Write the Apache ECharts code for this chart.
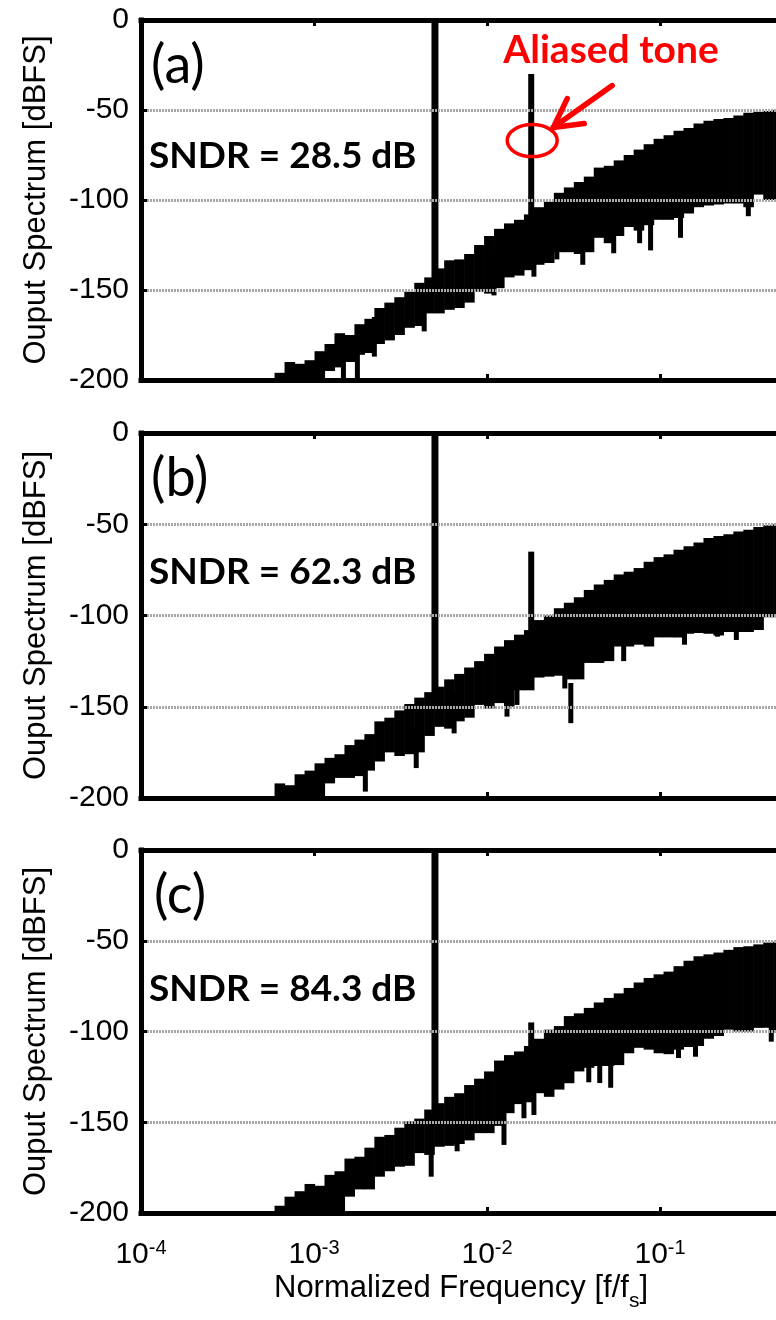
<!DOCTYPE html>
<html><head><meta charset="utf-8">
<script src="https://cdn.jsdelivr.net/npm/echarts@6/dist/echarts.min.js"></script>
<style>html,body{margin:0;padding:0;background:#fff}#c{width:776px;height:1320px}</style>
</head><body><div id="c"></div>
<script>
// ---------- data ----------
const noiseFreq = [6.32e-4,7.22e-4,8.25e-4,9.42e-4,1.076e-3,1.228e-3,1.403e-3,1.602e-3,1.829e-3,2.089e-3,
  2.385e-3,2.724e-3,3.111e-3,3.552e-3,4.056e-3,4.632e-3,5.290e-3,6.040e-3,6.898e-3,7.876e-3,
  8.995e-3,1.027e-2,1.173e-2,1.339e-2,1.529e-2,1.746e-2,1.994e-2,2.277e-2,2.600e-2,2.969e-2,
  3.391e-2,3.872e-2,4.421e-2,5.049e-2,5.765e-2,6.583e-2,7.518e-2,8.585e-2,9.804e-2,0.1119,
  0.1278,0.1460,0.1667,0.1904,0.2174,0.2482,0.2835,0.3237,0.3696,0.4220,0.4819];

const topA = [-196,-190,-191,-189,-184,-180,-174,-175,-169,-166,
  -160,-157,-154,-151,-146,-143,-138,-133.5,-133,-130,
  -125,-120,-116,-113,-111,-108,-104,-101,-96,-93,
  -90,-87,-82,-81,-78,-75,-72,-69,-66,-64,
  -61.5,-60,-57.5,-56,-55,-54.5,-53,-51.5,-51,-50.5,-50];
const botA = [-200,-200,-200,-200,-200,-195,-193,-190,-186,-185,
  -180,-178,-175,-171,-170,-163,-163,-161,-160,-157,
  -151,-152,-149,-143,-142,-139,-136,-135,-129,-129,
  -130,-129,-121,-124,-120,-115,-117,-114,-111,-111,
  -110,-107.5,-104,-103,-102.5,-102,-102,-104,-97,-100,-100];

const topB = [-192,-193,-187,-185,-181,-178,-176,-171,-168,-165,
  -158,-156,-152,-148.5,-145,-142,-139,-135,-132,-128.5,
  -125,-121,-117,-113.5,-110.5,-108,-102.5,-100,-96,-93,
  -90,-86,-83,-80.5,-77.5,-76,-74,-70.5,-68,-66.5,
  -64,-62,-60,-57.5,-56.5,-55.5,-54,-53,-51.5,-50.5,-50];
const botB = [-200,-200,-200,-200,-200,-192,-189,-189,-188,-185,
  -180,-175,-177,-176,-175,-166,-161,-162,-158,-156,
  -149,-151,-148,-150,-141,-141,-134,-133.5,-133,-135,
  -135,-126,-126,-125,-117,-117,-116,-117,-112,-112,
  -112,-110,-109.6,-110,-111,-109,-109,-109,-108,-101,-101];

const topC = [-196,-191,-188,-184,-185,-179,-177,-170,-169,-164,
  -158,-157,-153,-149.5,-148,-143,-139.5,-136,-134,-129.5,
  -126,-122,-116,-113,-111,-108,-104,-99,-97,-91.5,
  -90,-87,-84,-81.5,-79,-76,-73,-70.5,-68.5,-67,
  -64,-61,-58.5,-57.5,-56.5,-55,-53.5,-53,-52,-51,-50.5];
const botC = [-200,-200,-200,-200,-200,-200,-200,-191,-187,-187,
  -180,-177,-174.5,-174,-167,-168,-163.5,-163,-162,-160,
  -156,-156,-152,-145,-140,-139,-134,-136,-132,-128.5,
  -122,-120,-119,-119,-118.5,-112,-109,-110,-112,-112.5,
  -110,-108.5,-108,-104,-102.5,-99,-100,-100,-98,-98,-100];

// narrow downward spurs in the noise floor
const dipFreqA = [1.479e-3,1.781e-3,2.232e-3,4.333e-3,1.097e-2,1.866e-2,2.532e-2,3.575e-2,5.395e-2,7.617e-2,8.815e-2,0.1313,0.3237];
const dipValA  = [-200,-200,-187,-173,-153,-142.6,-133,-136,-129.6,-124,-128,-121,-109];
const dipFreqB = [1.980e-3,3.897e-3,6.452e-3,1.304e-2,1.489e-2,2.815e-2,3.049e-2,6.161e-2,0.1384,0.2145,0.2760];
const dipValB  = [-196.5,-183.6,-164.6,-155.4,-149,-140,-159,-125,-116,-111.6,-113.4];
const dipFreqC = [1.460e-3,4.755e-3,6.715e-3,1.253e-2,1.634e-2,1.866e-2,3.872e-2,4.481e-2,5.184e-2,0.1278,0.1602,0.4392];
const dipValC  = [-200,-180,-166,-162.5,-147.8,-146,-128,-128.4,-131,-114.6,-113.9,-105.6];

// tones
const toneFreq = 0.005;
const toneTop = [0, 0, 0];
const toneBottom = [-150, -150, -150];
const aliasFreq = 0.018;
const aliasTop = [-30, -65, -95];
const aliasBottom = [-112, -112, -112];

// texts & ticks
const panelLabels = ['(a)', '(b)', '(c)'];
const sndrLabels = ['SNDR = 28.5 dB', 'SNDR = 62.3 dB', 'SNDR = 84.3 dB'];
const yTicks = [0, -50, -100, -150, -200];
const xTickValues = [1e-4, 1e-3, 1e-2, 1e-1];
const xTickExps = ['-4', '-3', '-2', '-1'];
const yName = 'Ouput Spectrum [dBFS]';
const xName = 'Normalized Frequency [f/f{sub|s}]';
const annotation = 'Aliased tone';
const X_MIN = 1e-4, X_MAX = 0.5;

// ---------- chart ----------
const chart = echarts.init(document.getElementById('c'), null, {renderer: 'canvas'});
const FONT = 'Liberation Sans';
const gridsPx = [
  {left: 141, top: 20, width: 640, height: 360},
  {left: 141, top: 433, width: 640, height: 365},
  {left: 141, top: 850, width: 640, height: 363}
];

function bandData(top, bot) {
  const n = noiseFreq.length;
  return noiseFreq.map((f, i) => {
    const left = i > 0 ? Math.sqrt(noiseFreq[i - 1] * f) : f / Math.sqrt(noiseFreq[1] / f);
    const right = i < n - 1 ? Math.sqrt(f * noiseFreq[i + 1]) : X_MAX;
    return [left, right, top[i], bot[i]];
  });
}
function bandRender(params, api) {
  const p1 = api.coord([api.value(0), api.value(2)]);
  const p2 = api.coord([api.value(1), api.value(3)]);
  return {type: 'rect', shape: {x: p1[0], y: p1[1], width: p2[0] - p1[0] + 0.6, height: p2[1] - p1[1]},
    style: {fill: '#000'}};
}
function dipRender(params, api) {
  const p = api.coord([api.value(0), api.value(1)]);
  const q = api.coord([api.value(0), api.value(1) + 22]);
  return {type: 'rect', shape: {x: p[0] - 2.5, y: q[1], width: 5, height: p[1] - q[1]}, style: {fill: '#000'}};
}

const tops = [topA, topB, topC], bots = [botA, botB, botC];
const dipF = [dipFreqA, dipFreqB, dipFreqC], dipV = [dipValA, dipValB, dipValC];
const BORDER = {show: true, onZero: false, lineStyle: {color: '#000', width: 5, cap: 'square'}};
const TICK = {show: true, inside: true, length: 6, lineStyle: {color: '#000', width: 3}};

const grid = [], xAxis = [], yAxis = [], series = [];
for (let i = 0; i < 3; i++) {
  grid.push(Object.assign({show: false, containLabel: false, outerBoundsMode: 'none'}, gridsPx[i]));
  xAxis.push({
    type: 'log', logBase: 10, gridIndex: i, min: X_MIN, max: X_MAX, position: 'bottom', z: 5,
    axisLine: BORDER, axisTick: TICK,
    splitLine: {show: false}, minorTick: {show: false},
    axisLabel: {
      show: i === 2, showMaxLabel: false, showMinLabel: true, margin: 25, color: '#000',
      fontFamily: FONT, fontSize: 30,
      formatter: v => {
        const k = xTickValues.findIndex(t => Math.abs(Math.log10(t) - Math.log10(v)) < 1e-6);
        return k < 0 ? '' : '10{sup|' + xTickExps[k] + '}';
      },
      rich: {sup: {fontSize: 20, fontFamily: FONT, color: '#000', verticalAlign: 'top', padding: [0, 0, 14, 0]}}
    },
    name: i === 2 ? xName : '', nameLocation: 'middle', nameGap: 52,
    nameTextStyle: {fontFamily: FONT, fontSize: 31, color: '#000',
      rich: {sub: {fontFamily: FONT, fontSize: 21, color: '#000', padding: [26, 0, 0, 0]}}}
  });
  xAxis.push({
    type: 'log', logBase: 10, gridIndex: i, min: X_MIN, max: X_MAX, position: 'top', z: 5,
    axisLine: BORDER, axisTick: TICK,
    splitLine: {show: false}, axisLabel: {show: false}
  });
  yAxis.push({
    type: 'value', gridIndex: i, min: -200, max: 0, interval: 50, position: 'left', z: 5,
    axisLine: BORDER, axisTick: TICK,
    axisLabel: {color: '#000', fontFamily: FONT, fontSize: 30, margin: 12,
      formatter: v => { const k = yTicks.indexOf(v); return k < 0 ? '' : String(yTicks[k]); }},
    splitLine: {show: true, showMinLine: false, showMaxLine: false,
      lineStyle: {color: '#a8a8a8', width: 3, type: [2, 1]}},
    name: yName, nameLocation: 'middle', nameRotate: 90, nameGap: 89,
    nameTextStyle: {fontFamily: FONT, fontSize: 31, color: '#000'}
  });
  const xb = i * 2;
  series.push({type: 'custom', xAxisIndex: xb, yAxisIndex: i, renderItem: bandRender, clip: true,
    encode: {x: [0, 1], y: [2, 3]}, data: bandData(tops[i], bots[i]), animation: false, silent: true});
  series.push({type: 'custom', xAxisIndex: xb, yAxisIndex: i, renderItem: dipRender, clip: true,
    encode: {x: 0, y: 1}, data: dipF[i].map((f, k) => [f, dipV[i][k]]), animation: false, silent: true});
  series.push({type: 'line', xAxisIndex: xb, yAxisIndex: i, symbol: 'none', animation: false, silent: true,
    lineStyle: {color: '#000', width: 7, cap: 'butt'},
    data: [[toneFreq, toneTop[i]], [toneFreq, toneBottom[i]]]});
  series.push({type: 'line', xAxisIndex: xb, yAxisIndex: i, symbol: 'none', animation: false, silent: true,
    lineStyle: {color: '#000', width: 6, cap: 'butt'},
    data: [[aliasFreq, aliasTop[i]], [aliasFreq, aliasBottom[i]]]});
}

const panelLabelPos = [[151, 66], [151, 479], [154, 896]];
const sndrPos = [[149, 156], [149, 572], [149, 989]];
const graphic = [];
for (let i = 0; i < 3; i++) {
  graphic.push({type: 'text', x: panelLabelPos[i][0], y: panelLabelPos[i][1], z: 100,
    style: {text: panelLabels[i], font: '54px Lato', fill: '#000', textVerticalAlign: 'middle', textAlign: 'left'}});
  graphic.push({type: 'text', x: sndrPos[i][0], y: sndrPos[i][1], z: 100,
    style: {text: sndrLabels[i], font: 'bold 37px Lato', fill: '#000', textVerticalAlign: 'middle', textAlign: 'left'}});
}
graphic.push({type: 'text', x: 611, y: 50, z: 100,
  style: {text: annotation, font: 'bold 39px Lato', fill: '#ff0000', textVerticalAlign: 'middle', textAlign: 'center'}});

chart.setOption({backgroundColor: '#fff', animation: false, grid, xAxis, yAxis, series, graphic});

// ellipse + arrow anchored to the aliased tone
const c = chart.convertToPixel({xAxisIndex: 0, yAxisIndex: 0}, [aliasFreq, -67]);
const cx = c[0] + 1, cy = c[1];
chart.setOption({graphic: graphic.concat([
  {type: 'ellipse', z: 101, shape: {cx: cx, cy: cy, rx: 25, ry: 16},
    style: {fill: 'none', stroke: '#ff0000', lineWidth: 3.5}},
  {type: 'polyline', z: 101, shape: {points: [[cx + 80, cy - 55], [cx + 21, cy - 13]]},
    style: {stroke: '#ff0000', lineWidth: 5.5, lineCap: 'round', fill: 'none'}},
  {type: 'polyline', z: 101, shape: {points: [[cx + 35, cy - 42], [cx + 21, cy - 13], [cx + 52, cy - 17]]},
    style: {stroke: '#ff0000', lineWidth: 5.5, lineCap: 'round', lineJoin: 'round', fill: 'none'}}
])});
</script>
</body></html>
